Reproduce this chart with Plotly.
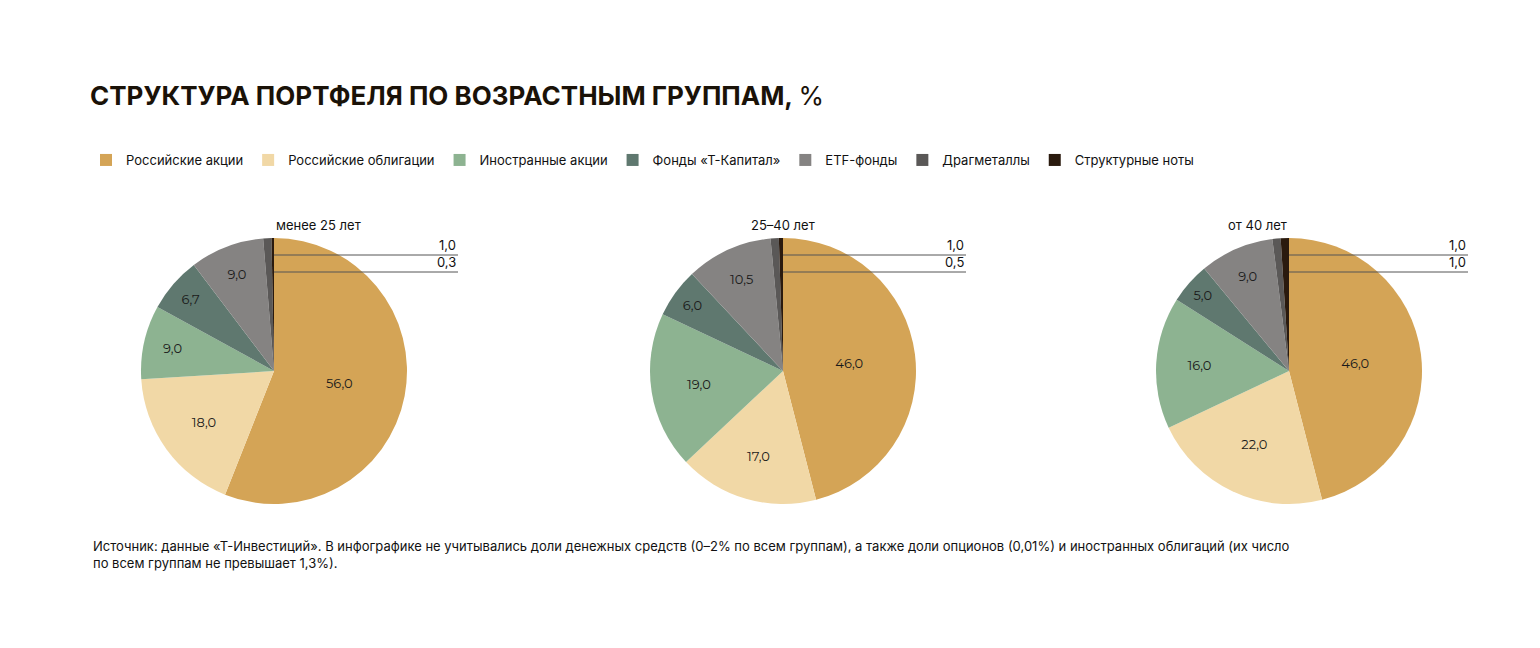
import plotly.graph_objects as go

categories = ["Российские акции", "Российские облигации", "Иностранные акции",
              "Фонды «Т-Капитал»", "ETF-фонды", "Драгметаллы", "Структурные ноты"]
colors = ["#D4A456", "#F1D8A6", "#8DB391", "#5F786F", "#858382", "#5A5857", "#2A1A0E"]
groups = ["менее 25 лет", "25–40 лет", "от 40 лет"]
values = [
    [56.0, 18.0, 9.0, 6.7, 9.0, 1.0, 0.3],
    [46.0, 17.0, 19.0, 6.0, 10.5, 1.0, 0.5],
    [46.0, 22.0, 16.0, 5.0, 9.0, 1.0, 1.0],
]

W, H = 1540, 648
centers = [266, 775, 1281]
cy, r = 363, 133
label_right = [450, 958, 1460]

def fmt(v):
    return f"{v:.1f}".replace(".", ",")

fig = go.Figure()
shapes, annotations = [], []
for gi, (g, vals) in enumerate(zip(groups, values)):
    cx = centers[gi]
    texts = [fmt(v) if v >= 2 else "" for v in vals]
    fig.add_trace(go.Pie(
        labels=categories, values=vals, sort=False, direction="clockwise", rotation=0,
        marker=dict(colors=colors, line=dict(width=0)),
        text=texts, textinfo="text", textposition="inside", insidetextorientation="horizontal",
        textfont=dict(family="Montserrat, Inter, sans-serif", size=13, color="#1a1a1a"),
        domain=dict(x=[(cx - r) / W, (cx + r) / W], y=[(H - cy - r) / H, (H - cy + r) / H]),
        showlegend=(gi == 0), hoverinfo="label+value",
    ))
    annotations.append(dict(x=cx / W, y=(H - 207) / H, xref="paper", yref="paper",
                            text=g, showarrow=False,
                            font=dict(family="Inter, sans-serif", size=13, color="#111")))
    for k, v in enumerate(vals[5:]):
        ly = 247 + 17 * k
        shapes.append(dict(type="line", xref="paper", yref="paper",
                           x0=cx / W, x1=label_right[gi] / W,
                           y0=(H - ly) / H, y1=(H - ly) / H,
                           line=dict(color="#555", width=1)))
        annotations.append(dict(x=label_right[gi] / W, y=(H - ly) / H, xref="paper", yref="paper",
                                text=fmt(v), showarrow=False, xanchor="right", yanchor="bottom",
                                font=dict(family="Inter, sans-serif", size=13, color="#111")))

annotations.append(dict(
    x=83 / W, y=(H - 528) / H, xref="paper", yref="paper", xanchor="left", yanchor="top",
    align="left", showarrow=False,
    text="Источник: данные «Т-Инвестиций». В инфографике не учитывались доли денежных средств (0–2% по всем группам), а также доли опционов (0,01%) и иностранных облигаций (их число<br>по всем группам не превышает 1,3%).",
    font=dict(family="Inter, sans-serif", size=13, color="#111")))

fig.update_layout(
    width=W, height=H, paper_bgcolor="white", plot_bgcolor="white",
    margin=dict(l=0, r=0, t=0, b=0),
    title=dict(text="<b>СТРУКТУРА ПОРТФЕЛЯ ПО ВОЗРАСТНЫМ ГРУППАМ, </b>%", x=82 / W, xanchor="left",
               y=(H - 88) / H, yanchor="middle",
               font=dict(family="Inter, sans-serif", size=26, color="#1a1208")),
    legend=dict(orientation="h", x=78 / W, y=(H - 152) / H, xanchor="left", yanchor="middle",
                font=dict(family="Inter, sans-serif", size=13, color="#111"),
                itemwidth=30, tracegroupgap=0),
    shapes=shapes, annotations=annotations,
)
fig.write_html("out.html")
